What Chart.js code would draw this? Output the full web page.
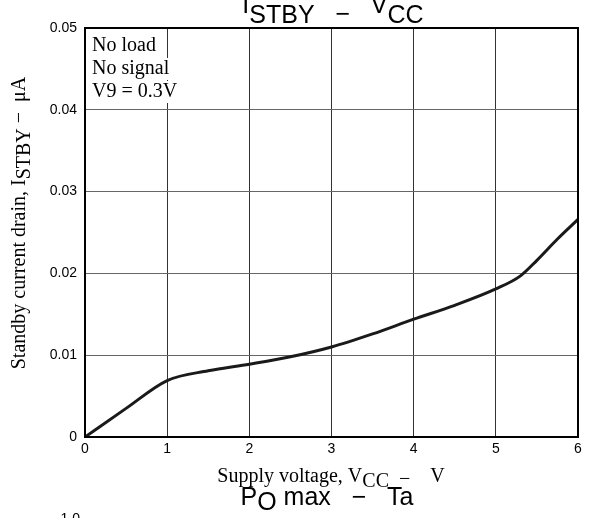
<!DOCTYPE html>
<html>
<head>
<meta charset="utf-8">
<script src="https://cdn.jsdelivr.net/npm/chart.js@4.4.1/dist/chart.umd.min.js"></script>
<style>
  html, body { margin: 0; padding: 0; background: #fff; }
  canvas { display: block; }
</style>
</head>
<body>
<canvas id="stbyCanvas" width="589" height="518"></canvas>
<script>
// supply voltage (V) and standby current (uA)
const voltages = [0, 0.5, 1, 1.5, 2, 2.5, 3, 3.5, 4, 4.5, 5, 5.3, 5.5, 5.75, 6];
const currents = [0, 0.0035, 0.0069, 0.0081, 0.0089, 0.0098, 0.0110, 0.0126, 0.0144, 0.0161, 0.0181, 0.0197, 0.0216, 0.0242, 0.0266];
const xTicks = [0, 1, 2, 3, 4, 5, 6];
const yTicks = [0, 0.01, 0.02, 0.03, 0.04, 0.05];
const notes = ['No load', 'No signal', 'V9 = 0.3V'];

const SANS = '"Liberation Sans", Arial, sans-serif';
const SERIF = '"Liberation Serif", "Times New Roman", serif';

// draws a run of [text, yShift] parts, centred on cx
function drawParts(ctx, parts, cx, baseline, font) {
    ctx.font = font;
    let total = 0;
    parts.forEach(p => total += ctx.measureText(p[0]).width);
    let x = cx - total / 2;
    ctx.textAlign = 'left';
    ctx.textBaseline = 'alphabetic';
    parts.forEach(p => {
        ctx.fillText(p[0], x, baseline + p[1]);
        x += ctx.measureText(p[0]).width;
    });
}

const decorations = {
    id: 'decorations',
    afterDraw(chart) {
        const ctx = chart.ctx;
        const a = chart.chartArea;
        ctx.save();

        // frame
        ctx.strokeStyle = '#000';
        ctx.lineWidth = 2;
        ctx.strokeRect(a.left, a.top, a.right - a.left, a.bottom - a.top);

        ctx.fillStyle = '#000';
        // title
        drawParts(ctx, [['I', 0], ['STBY', 10], ['   \u2212   ', 9], ['V', 0], ['CC', 10]], 333, 13, '25px ' + SANS);
        // next chart title, cut at the bottom
        drawParts(ctx, [['P', 0], ['O', 5], [' max   \u2212   Ta', 0]], 327, 505, '25px ' + SANS);
        ctx.font = '14px ' + SANS;
        ctx.textAlign = 'right';
        ctx.fillText('1.0', 80, 523);

        // x axis label
        drawParts(ctx, [['Supply voltage, V', 0], ['CC', 5], ['  \u2212    ', 3], ['V', 0]], 331, 482, '20px ' + SERIF);

        // y axis label (rotated)
        ctx.save();
        ctx.translate(25, 223);
        ctx.rotate(-Math.PI / 2);
        drawParts(ctx, [['Standby current drain, I', 0], ['STBY', 5], [' \u2212  \u03bcA', 0]], 0, 0, '20px ' + SERIF);
        ctx.restore();

        // condition notes with white backing
        ctx.font = '20px ' + SERIF;
        ctx.textAlign = 'left';
        notes.forEach((t, i) => {
            const y = 51 + i * 23;
            const w = ctx.measureText(t).width;
            ctx.fillStyle = '#fff';
            ctx.fillRect(a.left + 2, y - 16, w + 8, 22);
            ctx.fillStyle = '#000';
            ctx.fillText(t, a.left + 7, y);
        });
        ctx.restore();
    }
};

new Chart(document.getElementById('stbyCanvas').getContext('2d'), {
    type: 'line',
    data: {
        datasets: [{
            data: voltages.map((v, i) => ({ x: v, y: currents[i] })),
            borderColor: '#1a1a1a',
            borderWidth: 3,
            pointRadius: 0,
            cubicInterpolationMode: 'monotone',
            fill: false
        }]
    },
    options: {
        responsive: false,
        animation: false,
        layout: { padding: { top: 28, right: 11, left: 0, bottom: 0 } },
        plugins: { legend: { display: false }, tooltip: { enabled: false } },
        scales: {
            x: {
                type: 'linear',
                min: 0,
                max: 6,
                afterBuildTicks: s => { s.ticks = xTicks.map(v => ({ value: v })); },
                afterFit: s => { s.height = 81; },
                ticks: { color: '#000', font: { family: SANS, size: 14 }, padding: 4, maxRotation: 0 },
                grid: { color: '#333', lineWidth: 1, drawTicks: false },
                border: { color: '#000', width: 2 }
            },
            y: {
                min: 0,
                max: 0.05,
                afterBuildTicks: s => { s.ticks = yTicks.map(v => ({ value: v })); },
                afterFit: s => { s.width = 85; },
                ticks: {
                    color: '#000',
                    font: { family: SANS, size: 14 },
                    padding: 8,
                    callback: v => v === 0 ? '0' : v.toFixed(2)
                },
                grid: { color: '#666', lineWidth: 1, drawTicks: false },
                border: { color: '#000', width: 2 }
            }
        }
    },
    plugins: [decorations]
});
</script>
</body>
</html>
